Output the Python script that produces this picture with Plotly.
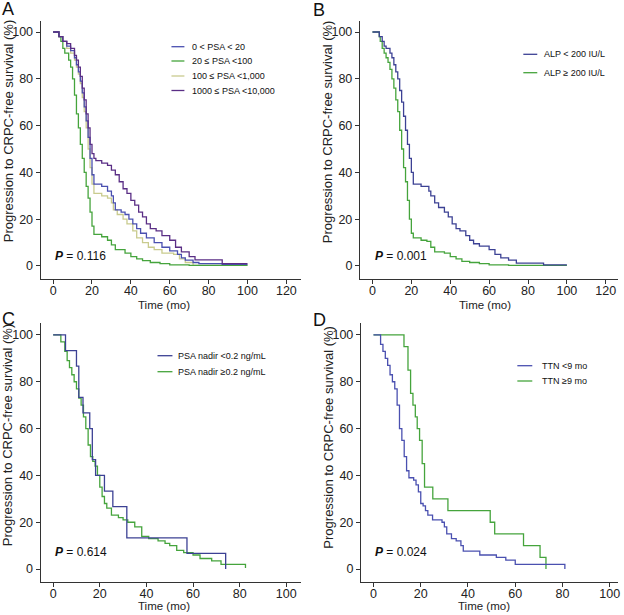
import plotly.graph_objects as go

# ---------------- data ----------------
# Panel A: baseline PSA groups
a_cats = ["0 < PSA < 20", "20 ≤ PSA <100", "100 ≤ PSA <1,000", "1000 ≤ PSA <10,000"]
a_psa1_t = [0, 3, 5, 7, 9, 11, 12, 13, 14, 15, 16, 17, 18, 19, 20, 21, 25, 28, 30, 31, 32, 35, 37, 39, 41, 43, 45, 48, 52, 56, 60, 64, 66, 68, 72, 75, 87, 100]
a_psa1_s = [100, 98, 96, 94, 92, 89, 86, 83, 79, 74, 68, 62, 55, 46, 39, 35, 34, 32, 30, 27, 24, 23, 22, 20, 18, 16, 14, 12, 10, 8, 6.5, 5, 3.5, 2.5, 1.5, 1, 0.7, 0.7]
a_psa2_t = [0, 3, 4, 5, 6, 8, 9, 10, 11, 12, 13, 14, 15, 16, 17, 18, 19, 20, 21, 25, 28, 30, 32, 37, 40, 43, 46, 50, 55, 60, 70, 100]
a_psa2_s = [100, 98, 96, 93, 91, 88, 85, 80, 73, 65, 59, 52, 46, 40, 34, 29, 23, 17, 13.5, 12.5, 11, 9, 7, 5.5, 4, 3, 2.3, 1.5, 1, 0.5, 0.3, 0.3]
a_psa3_t = [0, 3, 5, 7, 9, 11, 12, 13, 14, 15, 16, 17, 18, 19, 20, 21, 25, 28, 30, 31, 33, 36, 38, 41, 43, 46, 49, 52, 56, 62, 65, 68, 72, 100]
a_psa3_s = [100, 98, 96, 93, 91, 88, 85, 82, 78, 72, 66, 59, 50, 42, 35, 31, 30, 29, 27, 24, 22, 20, 18, 15, 12, 10, 8, 7, 5.5, 5, 3, 1.5, 0.3, 0.3]
a_psa4_t = [0, 3, 5, 7, 9, 11, 12, 13, 14, 15, 16, 17, 18, 19, 20, 21, 22, 25, 28, 30, 32, 34, 36, 38, 40, 42, 44, 46, 48, 50, 53, 56, 60, 63, 66, 70, 73, 87, 100]
a_psa4_s = [100, 98, 96, 95, 93, 90, 88, 85, 81, 76, 71, 65, 59, 52, 48, 46, 45, 44, 43, 41, 39, 36, 33, 31, 28, 26, 23, 21, 18, 16, 15, 13, 11, 8, 6, 4, 2.6, 1, 1]

# Panel B: ALP groups
b_cats = ["ALP < 200 IU/L", "ALP ≥ 200 IU/L"]
b_low_t = [0, 3.5, 5, 6, 7, 9, 10, 11, 12, 13, 14, 15, 16, 17, 18, 19, 20, 21, 25, 29, 30, 32, 34, 37, 39, 41, 43, 45, 48, 50, 52, 55, 60, 63, 66, 70, 74, 88, 100]
b_low_s = [100, 98, 96, 94, 93, 91, 89, 86, 83, 80, 75, 70, 64, 58, 52, 46, 40, 35, 34, 32, 30, 27, 25, 23, 21, 18, 16, 15, 13, 11, 9.5, 8.5, 7, 5, 3.5, 2.5, 1.2, 0.5, 0.5]
b_high_t = [0, 3.5, 4, 5, 6, 7, 8, 9, 10, 11, 12, 13, 14, 15, 16, 17, 18, 19, 20, 21, 25, 28, 30, 32, 37, 40, 43, 46, 50, 55, 60, 70, 100]
b_high_s = [100, 98, 96, 93, 91, 89, 87, 84, 80, 76, 71, 66, 58, 50, 42, 36, 28, 20, 14, 12, 11, 10.5, 8, 6, 5.5, 4, 3, 2, 1.5, 1, 0.5, 0.3, 0.3]

# Panel C: PSA nadir groups
c_cats = ["PSA nadir <0.2 ng/mL", "PSA nadir ≥0.2 ng/mL"]
c_low_t = [0, 5.3, 10, 11, 12.8, 15.7, 16.8, 18.2, 22, 25.6, 31.6, 57.4, 74, 74]
c_low_s = [100, 93.3, 86.7, 73.3, 66.7, 60, 46.7, 40, 33.3, 26.7, 13.3, 6.7, 0, 0]
c_high_t = [0, 3.3, 5, 6, 7, 8, 9, 10, 11, 12, 13, 14, 15, 16, 17, 18, 19, 20, 21, 22, 23, 25, 28, 30, 32, 35, 38, 41, 45, 48, 50, 53, 56, 60, 63, 68, 72, 82.5, 82.5]
c_high_s = [100, 97, 93, 89, 86, 83, 80, 77, 73, 70, 65, 60, 53, 48, 46, 44, 40, 35, 31, 28, 26, 23, 22, 21, 20, 18, 14, 13, 12, 11, 10, 8, 7, 6, 4.5, 3.5, 2, 0.5, 0.5]

# Panel D: time to nadir groups
d_cats = ["TTN <9 mo", "TTN ≥9 mo"]
d_short_t = [0, 3, 4, 5, 6, 7, 8, 9, 10, 11, 12, 13, 14, 15, 17, 18, 19, 20, 21, 22, 23, 25, 29, 30, 31, 33, 35, 37, 38, 45, 52, 56, 60, 81, 81]
d_short_s = [100, 96, 93, 90, 87, 83, 80, 77, 70, 60, 55, 48, 42, 39, 38, 36, 33, 28, 27, 25, 23, 21, 20, 18, 15, 13, 12, 10, 7.7, 6, 5, 3.8, 2, 0, 0]
d_long_t = [0, 12.9, 14.6, 15.7, 16.7, 17.7, 18.5, 19.5, 20.6, 21.6, 25.1, 31.5, 49.4, 51.3, 63.5, 70.5, 73, 73]
d_long_s = [100, 95, 85, 75, 70, 65, 60, 55, 45, 35, 30, 25, 20, 15, 10, 5, 0, 0]

p_values = ["0.116", "0.001", "0.614", "0.024"]
panel_letters = ["A", "B", "C", "D"]
x_ticks_ab = [0, 20, 40, 60, 80, 100, 120]
x_ticks_cd = [0, 20, 40, 60, 80, 100]
y_ticks = [0, 20, 40, 60, 80, 100]

# ---------------- styles ----------------
BLUE = "#4a50b0"
NAVY = "#3c4194"
GREEN = "#45a43c"
TAN = "#c9cb8e"
PURPLE = "#5a2e85"
FONT = "Arial, Liberation Sans, sans-serif"
W, H = 624, 615

def px(x):
    return x / W

def py(y):
    return 1 - y / H

fig = go.Figure()

def add_curve(t, s, color, xa, ya, name):
    fig.add_trace(go.Scatter(x=t, y=s, mode="lines", line=dict(color=color, width=1.3, shape="hv"),
                             xaxis=xa, yaxis=ya, name=name, showlegend=False, hoverinfo="skip"))

add_curve(a_psa3_t, a_psa3_s, TAN, "x", "y", a_cats[2])
add_curve(a_psa2_t, a_psa2_s, GREEN, "x", "y", a_cats[1])
add_curve(a_psa1_t, a_psa1_s, BLUE, "x", "y", a_cats[0])
add_curve(a_psa4_t, a_psa4_s, PURPLE, "x", "y", a_cats[3])

add_curve(b_high_t, b_high_s, GREEN, "x2", "y2", b_cats[1])
add_curve(b_low_t, b_low_s, NAVY, "x2", "y2", b_cats[0])

add_curve(c_high_t, c_high_s, GREEN, "x3", "y3", c_cats[1])
add_curve(c_low_t, c_low_s, NAVY, "x3", "y3", c_cats[0])

add_curve(d_long_t, d_long_s, GREEN, "x4", "y4", d_cats[1])
add_curve(d_short_t, d_short_s, BLUE, "x4", "y4", d_cats[0])

axis_common = dict(showgrid=False, zeroline=False, showline=True, linecolor="#333333", linewidth=1,
                   ticks="outside", ticklen=4, tickcolor="#333333", tickwidth=1,
                   tickfont=dict(family=FONT, size=12.5, color="#222222"))

# panel geometry (pixel space)
panels = [
    # (x_left, x_right, y_top, y_bottom, xrange, yrange, xticks)
    (40.7, 301.7, 21, 279, [-6.46, 127.4], [-5.56, 104.7], x_ticks_ab),
    (361, 620, 21, 279, [-6.5, 126.3], [-5.56, 104.7], x_ticks_ab),
    (40.7, 301.7, 323, 581.7, [-5.4, 106.2], [-5.4, 105.1], x_ticks_cd),
    (362, 620, 323, 581.7, [-5.36, 103.5], [-5.4, 105.1], x_ticks_cd),
]
layout_axes = {}
for i, (xl, xr, yt, yb, xr_, yr_, xt) in enumerate(panels):
    sfx = "" if i == 0 else str(i + 1)
    layout_axes["xaxis" + sfx] = dict(axis_common, domain=[px(xl), px(xr)], range=xr_, tickvals=xt,
                                      anchor="y" + sfx, ticklabelstandoff=-4)
    layout_axes["yaxis" + sfx] = dict(axis_common, domain=[py(yb), py(yt)], range=yr_, tickvals=y_ticks,
                                      anchor="x" + sfx)

annotations = []
shapes = []
# panel letters
for letter, (lx, ly) in zip(panel_letters, [(8, 9), (320, 10), (9, 319), (321, 320)]):
    annotations.append(dict(text=letter, x=px(lx), y=py(ly), xref="paper", yref="paper", showarrow=False,
                            xanchor="center", yanchor="middle", font=dict(family=FONT, size=18, color="#111")))
# axis titles
for (tx, ty) in [(8.3, 131), (328.7, 131.5), (7.3, 435), (328.7, 437)]:
    annotations.append(dict(text="Progression to CRPC-free survival (%)", x=px(tx), y=py(ty), xref="paper",
                            yref="paper", showarrow=False, textangle=-90, xanchor="center", yanchor="middle",
                            font=dict(family=FONT, size=13, color="#222")))
for (tx, ty) in [(165, 304.5), (487, 304.5), (165, 606), (486, 606)]:
    annotations.append(dict(text="Time (mo)", x=px(tx), y=py(ty), xref="paper", yref="paper", showarrow=False,
                            xanchor="center", yanchor="middle", font=dict(family=FONT, size=11.5, color="#222")))
# p-values
for pv, (tx, ty) in zip(p_values, [(53, 256), (374, 256), (53, 552), (374, 552)]):
    annotations.append(dict(text="<b><i>P</i></b> = " + pv, x=px(tx), y=py(ty), xref="paper", yref="paper",
                            showarrow=False, xanchor="left", yanchor="middle",
                            font=dict(family=FONT, size=12, color="#111")))

# legends (swatch + label)
legend_specs = [
    (172, 185, 191, [46.7, 61, 76, 90.5], a_cats, [BLUE, GREEN, TAN, PURPLE]),
    (525, 539, 544, [54.3, 72.7], b_cats, [NAVY, GREEN]),
    (158, 173, 177, [355.7, 371.7], c_cats, [NAVY, GREEN]),
    (519, 534, 542, [365.7, 381], d_cats, [BLUE, GREEN]),
]
for x0, x1, tx, rows, labels, colors in legend_specs:
    for ry, lab, col in zip(rows, labels, colors):
        shapes.append(dict(type="line", xref="paper", yref="paper", x0=px(x0), x1=px(x1), y0=py(ry), y1=py(ry),
                           line=dict(color=col, width=1.3)))
        annotations.append(dict(text=lab, x=px(tx), y=py(ry), xref="paper", yref="paper", showarrow=False,
                                xanchor="left", yanchor="middle", font=dict(family=FONT, size=9, color="#111")))

fig.update_layout(width=W, height=H, margin=dict(l=0, r=0, t=0, b=0), paper_bgcolor="white",
                  plot_bgcolor="white", showlegend=False, annotations=annotations, shapes=shapes,
                  **layout_axes)

fig.write_html("out.html", config={"displayModeBar": False},
               post_script="document.body.style.margin='0';document.body.style.padding='0';document.body.style.overflow='hidden';")
